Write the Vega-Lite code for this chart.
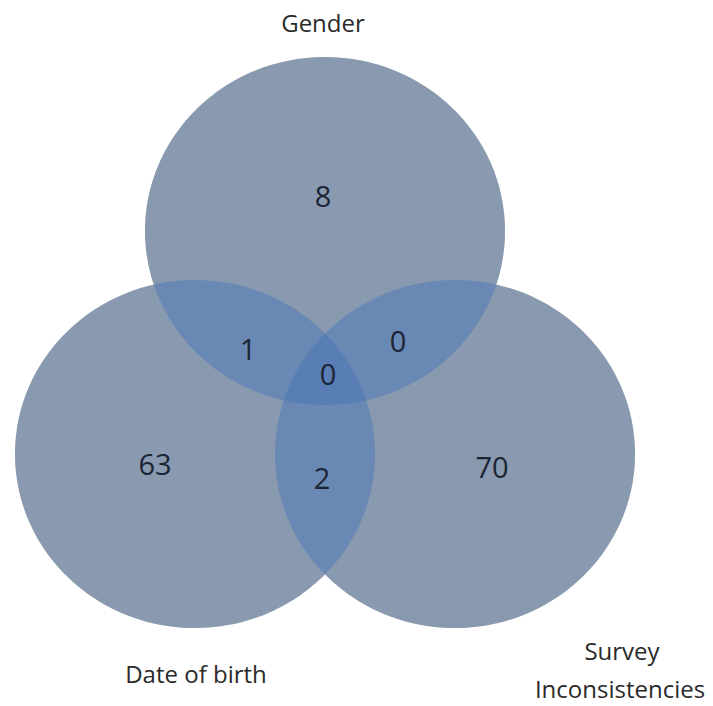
{
  "$schema": "https://vega.github.io/schema/vega-lite/v6.json",
  "autosize": {"type": "fit", "contains": "padding"},
  "width": 713,
  "height": 706,
  "padding": 0,
  "background": "white",
  "config": {"view": {"stroke": null}},
  "datasets": {
    "sets": [
      {"set": "Gender", "cx": 325, "cy": 231},
      {"set": "Date of birth", "cx": 195, "cy": 454},
      {"set": "Survey Inconsistencies", "cx": 455, "cy": 454}
    ],
    "regions": [
      {"region": "Gender only", "count": "8", "px": 323, "py": 207},
      {"region": "Gender & Date of birth", "count": "1", "px": 248, "py": 360},
      {"region": "Gender & Survey", "count": "0", "px": 398, "py": 352},
      {"region": "All three", "count": "0", "px": 328, "py": 385},
      {"region": "Date of birth only", "count": "63", "px": 155, "py": 475},
      {"region": "Date of birth & Survey", "count": "2", "px": 322, "py": 489},
      {"region": "Survey only", "count": "70", "px": 492, "py": 478}
    ],
    "labels": [
      {"text": "Gender", "lx": 323, "ly": 32},
      {"text": "Date of birth", "lx": 196, "ly": 683},
      {"text": "Survey", "lx": 622, "ly": 660},
      {"text": "Inconsistencies", "lx": 620, "ly": 698}
    ]
  },
  "layer": [
    {
      "data": {"name": "sets"},
      "mark": {"type": "point", "filled": true, "shape": "M-1,0A1,0.967,0,1,1,1,0A1,0.967,0,1,1,-1,0Z", "size": 129600, "fill": "#BFB9A9", "opacity": 1, "strokeWidth": 0},
      "encoding": {
        "x": {"field": "cx", "type": "quantitative", "scale": {"domain": [0, 713], "nice": false, "zero": false}, "axis": null},
        "y": {"field": "cy", "type": "quantitative", "scale": {"domain": [0, 706], "nice": false, "zero": false, "reverse": true}, "axis": null}
      }
    },
    {
      "data": {"name": "sets"},
      "mark": {"type": "point", "filled": true, "shape": "M-1,0A1,0.967,0,1,1,1,0A1,0.967,0,1,1,-1,0Z", "size": 129600, "fill": "#4574B8", "opacity": 0.45, "strokeWidth": 0},
      "encoding": {
        "x": {"field": "cx", "type": "quantitative"},
        "y": {"field": "cy", "type": "quantitative"}
      }
    },
    {
      "data": {"name": "regions"},
      "mark": {"type": "text", "font": "Open Sans", "fontSize": 29, "color": "#1c2535", "align": "center", "baseline": "alphabetic"},
      "encoding": {
        "x": {"field": "px", "type": "quantitative"},
        "y": {"field": "py", "type": "quantitative"},
        "text": {"field": "count"}
      }
    },
    {
      "data": {"name": "labels"},
      "mark": {"type": "text", "font": "Open Sans", "fontSize": 24, "color": "#2a2a2a", "align": "center", "baseline": "alphabetic"},
      "encoding": {
        "x": {"field": "lx", "type": "quantitative"},
        "y": {"field": "ly", "type": "quantitative"},
        "text": {"field": "text"}
      }
    }
  ]
}
